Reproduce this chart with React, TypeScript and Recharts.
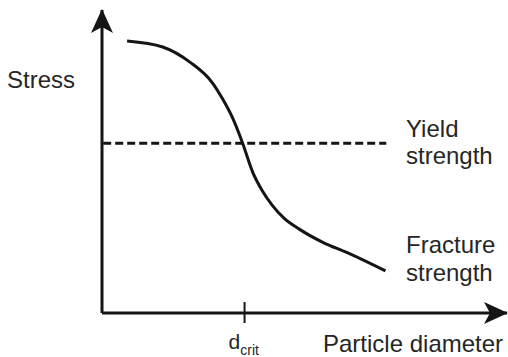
import React from 'react';
import { ComposedChart, Line, XAxis, YAxis } from 'recharts';

// fracture strength vs particle diameter (arbitrary units)
const fractureX = [6.2, 15, 21.7, 27.3, 29.8, 32.3, 34.7, 37.2, 39.5, 42, 45, 48.8, 54.4, 61.1, 70];
const fractureY = [89.8, 87.8, 82.8, 75.9, 70.6, 64.2, 56.1, 46.5, 40.5, 35.6, 31.2, 27.6, 23.4, 19.6, 13.9];

const yieldX = [0.3, 70.2];
const yieldLevel = 56;

const dCrit = 35.2;
const axisDomain = [0, 100];

const fractureData = fractureX.map((x, i) => ({ x, y: fractureY[i] }));
const yieldData = yieldX.map((x) => ({ x, y: yieldLevel }));

const INK = '#151515';
const TEXT = '#262626';
const FONT = '"Liberation Sans", Arial, sans-serif';

const CritTick = (props: any) => {
  const { x, y } = props;
  return (
    <g>
      <line x1={x} x2={x} y1={y - 11} y2={y + 10} stroke={INK} strokeWidth={2} />
      <text x={x - 16} y={y + 36} fill={TEXT} fontSize={21} fontFamily={FONT}>
        d<tspan fontSize={14} dy={6}>crit</tspan>
      </text>
    </g>
  );
};

const App: React.FC = () => {
  return (
    <div style={{ position: 'absolute', left: 0, top: 0, background: '#fff' }}>
      <ComposedChart
        width={508}
        height={357}
        margin={{ top: 10, right: 1, bottom: 0, left: 0 }}
      >
        <defs>
          <marker
            id="arrowHead"
            markerUnits="userSpaceOnUse"
            markerWidth={24}
            markerHeight={22}
            viewBox="0 0 24 22"
            refX={23}
            refY={11}
            orient="auto-start-reverse"
          >
            <path d="M0,0 L24,11 L0,22 L6,11 Z" fill={INK} />
          </marker>
        </defs>
        <XAxis
          type="number"
          dataKey="x"
          domain={axisDomain}
          ticks={[dCrit]}
          height={44}
          tickSize={0}
          tickMargin={0}
          tickLine={false}
          tick={<CritTick />}
          axisLine={{ stroke: INK, strokeWidth: 3, markerEnd: 'url(#arrowHead)' }}
          allowDataOverflow
        />
        <YAxis
          type="number"
          domain={axisDomain}
          width={102}
          tick={false}
          tickLine={false}
          axisLine={{ stroke: INK, strokeWidth: 3, markerStart: 'url(#arrowHead)' }}
          allowDataOverflow
        />
        <Line
          data={yieldData}
          dataKey="y"
          type="linear"
          stroke={INK}
          strokeWidth={3}
          strokeDasharray="8 4"
          dot={false}
          isAnimationActive={false}
        />
        <Line
          data={fractureData}
          dataKey="y"
          type="monotone"
          stroke={INK}
          strokeWidth={3}
          dot={false}
          isAnimationActive={false}
        />
        <g fontFamily={FONT} fontSize={24} fill={TEXT}>
          <text x={7} y={88}>Stress</text>
          <text x={406} y={137}>Yield</text>
          <text x={406} y={164}>strength</text>
          <text x={406} y={253}>Fracture</text>
          <text x={406} y={281}>strength</text>
          <text x={323} y={352}>Particle diameter</text>
        </g>
      </ComposedChart>
    </div>
  );
};

export default App;
